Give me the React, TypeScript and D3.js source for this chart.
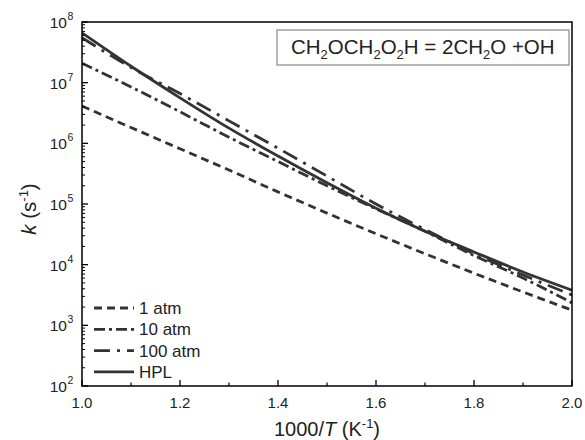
import React from "react";
import * as d3 from "d3";

const xValues = [1.0, 1.1, 1.2, 1.3, 1.4, 1.5, 1.6, 1.7, 1.8, 1.9, 2.0];
// log10(k) values
const atm1 = [6.615, 6.26, 5.91, 5.56, 5.2, 4.85, 4.51, 4.18, 3.86, 3.55, 3.25];
const atm10 = [7.32, 6.93, 6.52, 6.1, 5.7, 5.3, 4.92, 4.55, 4.15, 3.78, 3.37];
const atm100 = [7.74, 7.25, 6.82, 6.37, 5.92, 5.46, 5.0, 4.58, 4.18, 3.83, 3.5];
const hpl = [7.82, 7.27, 6.75, 6.25, 5.79, 5.35, 4.93, 4.55, 4.21, 3.88, 3.58];

const seriesNames = ["1 atm", "10 atm", "100 atm", "HPL"];
const seriesData = [atm1, atm10, atm100, hpl];
const seriesDash = ["8,5", "11,4,3,4", "16,7,3,7", ""];

const xTicks = [1.0, 1.2, 1.4, 1.6, 1.8, 2.0];
const xMinor = [1.1, 1.3, 1.5, 1.7, 1.9];
const yExps = [2, 3, 4, 5, 6, 7, 8];

const W = 585;
const H = 440;
const L = 82, R = 572, T = 22, B = 386;
const color = "#333";
const font = "Arial, 'Liberation Sans', sans-serif";

export default function App() {
  const x = d3.scaleLinear().domain([1.0, 2.0]).range([L, R]);
  const y = d3.scaleLog().domain([1e2, 1e8]).range([B, T]);

  const line = d3
    .line<[number, number]>()
    .x((d) => x(d[0]))
    .y((d) => y(Math.pow(10, d[1])))
    .curve(d3.curveMonotoneX);

  const yMinor: number[] = [];
  for (let e = 2; e < 8; e++) {
    for (let m = 2; m <= 9; m++) yMinor.push(m * Math.pow(10, e));
  }

  return (
    <svg
      width={W}
      height={H}
      style={{ position: "absolute", left: 0, top: 0, background: "#fff" }}
      fontFamily={font}
    >
      <rect x={0} y={0} width={W} height={H} fill="#fff" />
      <defs>
        <clipPath id="plotclip">
          <rect x={L} y={T} width={R - L} height={B - T} />
        </clipPath>
      </defs>

      {/* series */}
      <g clipPath="url(#plotclip)">
        {seriesData.map((s, i) => (
          <path
            key={seriesNames[i]}
            d={line(xValues.map((v, j) => [v, s[j]]) as [number, number][]) || ""}
            fill="none"
            stroke={color}
            strokeWidth={2.8}
            strokeDasharray={seriesDash[i] || undefined}
          />
        ))}
      </g>

      {/* frame */}
      <rect x={L} y={T} width={R - L} height={B - T} fill="none" stroke="#000" strokeWidth={1.5} />

      {/* x ticks */}
      {xTicks.map((t) => (
        <g key={"xt" + t}>
          <line x1={x(t)} x2={x(t)} y1={B} y2={B - 6} stroke="#000" strokeWidth={1.3} />
          <text x={x(t)} y={408} fontSize={15} textAnchor="middle" fill="#222">
            {t.toFixed(1)}
          </text>
        </g>
      ))}
      {xMinor.map((t) => (
        <line key={"xm" + t} x1={x(t)} x2={x(t)} y1={B} y2={B - 3.5} stroke="#000" strokeWidth={1.2} />
      ))}

      {/* y ticks */}
      {yExps.map((e) => (
        <g key={"yt" + e}>
          <line x1={L} x2={L + 6} y1={y(Math.pow(10, e))} y2={y(Math.pow(10, e))} stroke="#000" strokeWidth={1.3} />
          <text x={67} y={y(Math.pow(10, e)) + 6} fontSize={15.5} textAnchor="end" fill="#222">
            10
          </text>
          <text x={67.5} y={y(Math.pow(10, e)) - 2} fontSize={10.5} textAnchor="start" fill="#222">
            {e}
          </text>
        </g>
      ))}
      {yMinor.map((v, i) => (
        <line key={"ym" + i} x1={L} x2={L + 3} y1={y(v)} y2={y(v)} stroke="#000" strokeWidth={1} />
      ))}

      {/* axis titles */}
      <text x={327} y={436} fontSize={20} textAnchor="middle" fill="#222">
        1000/<tspan fontStyle="italic">T</tspan> (K
        <tspan dy={-8} fontSize={13}>-1</tspan>
        <tspan dy={8}>)</tspan>
      </text>
      <text
        transform={`translate(36, 209) rotate(-90)`}
        fontSize={20.5}
        textAnchor="middle"
        fill="#222"
      >
        <tspan fontStyle="italic">k</tspan> (s
        <tspan dy={-8} fontSize={13}>-1</tspan>
        <tspan dy={8}>)</tspan>
      </text>

      {/* title box */}
      <rect x={277} y={30} width={292} height={35} fill="#fff" stroke="#888" strokeWidth={1.2} />
      <text x={291} y={54} fontSize={20.5} fill="#222">
        CH<tspan dy={5} fontSize={13}>2</tspan>
        <tspan dy={-5}>OCH</tspan>
        <tspan dy={5} fontSize={13}>2</tspan>
        <tspan dy={-5}>O</tspan>
        <tspan dy={5} fontSize={13}>2</tspan>
        <tspan dy={-5}>H = 2CH</tspan>
        <tspan dy={5} fontSize={13}>2</tspan>
        <tspan dy={-5}>O +OH</tspan>
      </text>

      {/* legend */}
      {seriesNames.map((n, i) => {
        const ly = 308 + i * 21.3;
        return (
          <g key={"lg" + n}>
            <line
              x1={94}
              x2={134}
              y1={ly}
              y2={ly}
              stroke={color}
              strokeWidth={2.8}
              strokeDasharray={seriesDash[i] || undefined}
            />
            <text x={139} y={ly + 6} fontSize={17} fill="#222">
              {n}
            </text>
          </g>
        );
      })}
    </svg>
  );
}
